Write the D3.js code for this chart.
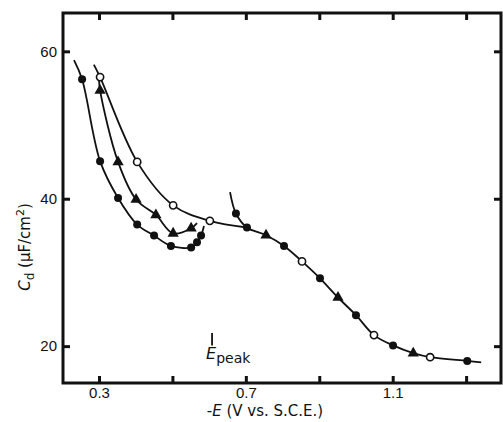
<!DOCTYPE html>
<html>
<head>
<meta charset="utf-8">
<script src="https://cdn.jsdelivr.net/npm/d3@7"></script>
<style>
  body { margin: 0; background: #fff; }
  svg { font-family: "DejaVu Sans", sans-serif; }
</style>
</head>
<body>
<div id="chart"></div>
<script>
// data: [-E (V), Cd (uF/cm2)]
var filledCircles = [[0.254,56.2],[0.303,45.1],[0.352,40.1],[0.404,36.5],[0.450,35.0],[0.496,33.6],[0.551,33.4],[0.567,34.1],[0.578,35.0],
    [0.673,38.0],[0.703,36.1],[0.804,33.6],[0.902,29.2],[1.000,24.2],[1.101,20.1],[1.303,18.0]];
var triangles = [[0.303,54.7],[0.352,45.0],[0.401,39.9],[0.455,37.8],[0.502,35.3],[0.551,36.0],[0.755,35.05],[0.951,26.6],[1.156,19.05]];
var openCircles = [[0.303,56.5],[0.404,45.0],[0.502,39.1],[0.602,37.0],[0.853,31.5],[1.049,21.5],[1.202,18.5]];

// drawn curves (through the points above, with their visible ends)
var curveLow = [[0.232,58.8],[0.254,56.2],[0.303,45.1],[0.352,40.1],[0.404,36.5],[0.450,35.0],[0.496,33.6],[0.551,33.4],[0.567,34.1],[0.578,35.0],[0.586,36.3]];
var curveMid = [[0.300,56.3],[0.303,54.7],[0.352,45.0],[0.401,39.9],[0.455,37.8],[0.502,35.3],[0.551,36.0],[0.567,36.7]];
var curveHigh = [[0.286,58.2],[0.303,56.5],[0.404,45.0],[0.502,39.1],[0.602,37.0],[0.703,36.1]];
var curveRight = [[0.657,40.9],[0.673,38.0],[0.703,36.1],[0.755,35.05],[0.804,33.6],[0.853,31.5],[0.902,29.2],[0.951,26.6],[1.000,24.2],
    [1.049,21.5],[1.101,20.1],[1.156,19.05],[1.202,18.5],[1.303,18.0],[1.341,17.8]];

var xTicks = [0.3, 0.5, 0.7, 0.9, 1.1, 1.3];
var xTickLabels = ["0.3", "", "0.7", "", "1.1", ""];
var yTicks = [20, 40, 60];
var ePeak = 0.608;

var width = 503, height = 422;
var margin = { top: 13, right: 2, bottom: 39, left: 63 };
var w = width - margin.left - margin.right;
var h = height - margin.top - margin.bottom;

var x = d3.scaleLinear().domain([0.202, 1.395]).range([0, w]);
var y = d3.scaleLinear().domain([15, 65.2]).range([h, 0]);

var svg = d3.select("#chart").append("svg")
    .attr("width", width)
    .attr("height", height);
var g = svg.append("g")
    .attr("transform", "translate(" + margin.left + "," + margin.top + ")");

// axes, ticks pointing into the frame
var axB = g.append("g").attr("transform", "translate(0," + h + ")")
    .call(d3.axisBottom(x).tickValues(xTicks).tickSize(-7).tickPadding(4)
        .tickFormat(function (d, i) { return xTickLabels[i]; }));
var axT = g.append("g")
    .call(d3.axisTop(x).tickValues(xTicks).tickSize(-7).tickFormat(""));
var axL = g.append("g")
    .call(d3.axisLeft(y).tickValues(yTicks).tickSize(-7).tickPadding(6));
var axR = g.append("g").attr("transform", "translate(" + w + ",0)")
    .call(d3.axisRight(y).tickValues(yTicks).tickSize(-7).tickFormat(""));

[axB, axT, axL, axR].forEach(function (a) {
    a.select(".domain").remove();
    a.selectAll(".tick line").attr("stroke", "#111").attr("stroke-width", 3);
    a.selectAll(".tick text").attr("fill", "#111").style("font-size", "15px");
});
axB.selectAll(".tick text").attr("dy", "0.71em");

g.append("rect")
    .attr("width", w).attr("height", h)
    .attr("fill", "none").attr("stroke", "#111").attr("stroke-width", 3);

// curves
var line = d3.line()
    .x(function (d) { return x(d[0]); })
    .y(function (d) { return y(d[1]); })
    .curve(d3.curveCatmullRom.alpha(0.5));

[curveLow, curveMid, curveHigh, curveRight].forEach(function (c) {
    g.append("path").datum(c)
        .attr("d", line)
        .attr("fill", "none").attr("stroke", "#111").attr("stroke-width", 1.8);
});

// markers
g.selectAll(".fc").data(filledCircles).enter().append("circle")
    .attr("cx", function (d) { return x(d[0]); })
    .attr("cy", function (d) { return y(d[1]); })
    .attr("r", 4).attr("fill", "#111");

g.selectAll(".oc").data(openCircles).enter().append("circle")
    .attr("cx", function (d) { return x(d[0]); })
    .attr("cy", function (d) { return y(d[1]); })
    .attr("r", 3.6).attr("fill", "#fff").attr("stroke", "#111").attr("stroke-width", 1.6);

var tri = d3.symbol().type(d3.symbolTriangle).size(55);
g.selectAll(".tr").data(triangles).enter().append("path")
    .attr("d", tri)
    .attr("transform", function (d) { return "translate(" + x(d[0]) + "," + y(d[1]) + ")"; })
    .attr("fill", "#111");

// E peak marker
var ex = x(ePeak);
g.append("line")
    .attr("x1", ex).attr("x2", ex)
    .attr("y1", y(21.8)).attr("y2", y(20.1))
    .attr("stroke", "#111").attr("stroke-width", 1.8);
var ep = g.append("text")
    .attr("x", ex - 6).attr("y", y(18.2))
    .attr("fill", "#111").style("font-size", "16px");
ep.append("tspan").attr("font-style", "italic").text("E");
ep.append("tspan").attr("dy", 4).style("font-size", "14px").text("peak");

// axis titles
var xt = svg.append("text")
    .attr("x", 265).attr("y", 416)
    .attr("text-anchor", "middle").attr("fill", "#111").style("font-size", "15px");
xt.append("tspan").text("-");
xt.append("tspan").attr("font-style", "italic").text("E");
xt.append("tspan").text(" (V vs. S.C.E.)");

var yt = svg.append("text")
    .attr("transform", "translate(30,247) rotate(-90)")
    .attr("text-anchor", "middle").attr("fill", "#111").style("font-size", "15px");
yt.append("tspan").attr("font-style", "italic").text("C");
yt.append("tspan").attr("dy", 4).style("font-size", "12px").text("d");
yt.append("tspan").attr("dy", -4).text(" (\u03bcF/cm");
yt.append("tspan").attr("dy", -6).style("font-size", "11px").text("2");
yt.append("tspan").attr("dy", 6).text(")");
</script>
</body>
</html>
